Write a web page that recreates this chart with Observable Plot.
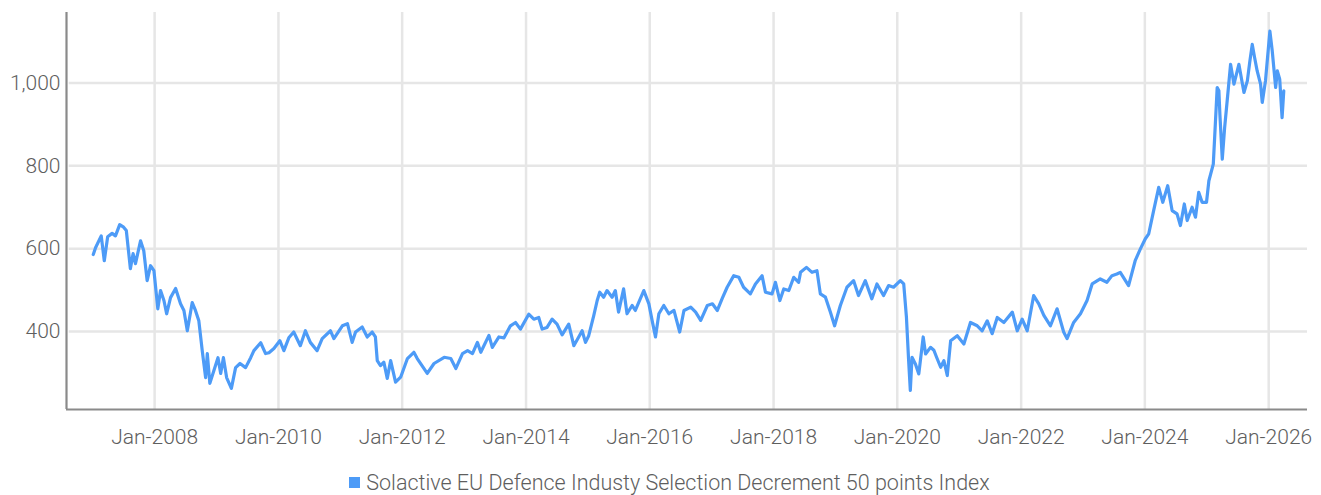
<!DOCTYPE html>
<html>
<head>
<meta charset="utf-8">
<script src="https://cdn.jsdelivr.net/npm/d3@7"></script>
<script src="https://cdn.jsdelivr.net/npm/@observablehq/plot@0.6"></script>
<style>
  html, body { margin: 0; padding: 0; background: #fff; }
  body { width: 1321px; height: 495px; overflow: hidden; font-family: Roboto, "Noto Sans", sans-serif; }
  #legend { display: flex; justify-content: center; align-items: center; height: 54px; margin-left: 18px;
    font-family: Roboto, sans-serif; font-weight: 300; font-size: 21.5px; color: #5e5e5e; }
  #legend .sw { width: 11px; height: 11px; background: #4d9bf7; margin-right: 6px; }
</style>
</head>
<body>
<div id="chart"></div>
<div id="legend"><span class="sw"></span><span id="legendText"></span></div>
<script>
const seriesName = "Solactive EU Defence Industy Selection Decrement 50 points Index";

const dates = [
  "2007-01-04","2007-01-18","2007-02-20","2007-03-10","2007-03-30","2007-04-25","2007-05-15","2007-06-09","2007-07-02","2007-07-18",
  "2007-08-11","2007-08-27","2007-09-10","2007-10-10","2007-10-29","2007-11-18","2007-12-08","2007-12-28","2008-01-20","2008-02-05",
  "2008-02-25","2008-03-12","2008-04-04","2008-05-04","2008-06-02","2008-06-22","2008-07-12","2008-08-10","2008-08-29","2008-09-18",
  "2008-10-08","2008-10-28","2008-11-07","2008-11-22","2008-12-16","2009-01-09","2009-01-25","2009-02-10","2009-03-01","2009-03-29",
  "2009-04-23","2009-05-19","2009-06-21","2009-07-21","2009-08-09","2009-09-18","2009-10-17","2009-11-06","2009-12-05","2010-01-09",
  "2010-02-02","2010-03-03","2010-04-01","2010-05-10","2010-06-09","2010-07-08","2010-08-17","2010-09-16","2010-11-04","2010-11-24",
  "2011-01-13","2011-02-12","2011-03-12","2011-04-01","2011-05-10","2011-06-09","2011-07-08","2011-07-27","2011-08-07","2011-08-26",
  "2011-09-15","2011-10-05","2011-10-25","2011-11-23","2011-12-23","2012-02-01","2012-03-10","2012-03-30","2012-05-28","2012-07-07",
  "2012-09-05","2012-10-14","2012-11-13","2012-12-22","2013-01-21","2013-02-19","2013-03-20","2013-04-09","2013-05-27","2013-06-16",
  "2013-07-25","2013-08-24","2013-10-01","2013-10-31","2013-11-29","2014-01-17","2014-02-16","2014-03-17","2014-04-06","2014-05-05",
  "2014-06-04","2014-07-03","2014-08-02","2014-09-10","2014-10-10","2014-11-08","2014-11-28","2014-12-18","2015-01-06","2015-02-05",
  "2015-02-25","2015-03-12","2015-04-04","2015-04-24","2015-05-24","2015-06-12","2015-07-01","2015-07-31","2015-08-20","2015-09-19",
  "2015-10-08","2015-11-27","2015-12-27","2016-01-15","2016-02-04","2016-02-24","2016-03-24","2016-04-23","2016-05-23","2016-06-26",
  "2016-07-21","2016-08-30","2016-09-28","2016-10-28","2016-12-06","2017-01-05","2017-02-03","2017-03-04","2017-04-02","2017-05-11",
  "2017-06-10","2017-07-08","2017-08-17","2017-09-16","2017-10-25","2017-11-14","2017-12-23","2018-01-12","2018-02-07","2018-03-02",
  "2018-04-01","2018-04-30","2018-05-29","2018-06-09","2018-07-14","2018-08-16","2018-09-14","2018-10-04","2018-11-03","2018-12-02",
  "2018-12-27","2019-01-30","2019-03-10","2019-04-18","2019-05-17","2019-06-26","2019-08-04","2019-09-03","2019-10-12","2019-11-11",
  "2019-12-10","2020-01-19","2020-02-08","2020-02-24","2020-03-08","2020-03-18","2020-03-28","2020-04-17","2020-05-07","2020-06-02",
  "2020-06-16","2020-07-15","2020-08-04","2020-08-20","2020-09-13","2020-10-02","2020-10-22","2020-11-11","2020-12-20","2021-01-28",
  "2021-03-08","2021-04-17","2021-05-16","2021-06-15","2021-07-14","2021-08-13","2021-09-21","2021-11-10","2021-12-09","2022-01-07",
  "2022-02-06","2022-03-16","2022-04-15","2022-05-15","2022-06-23","2022-08-01","2022-09-09","2022-09-29","2022-11-07","2022-12-17",
  "2023-01-25","2023-02-24","2023-04-13","2023-05-22","2023-06-21","2023-07-20","2023-08-09","2023-09-27","2023-11-05","2023-12-05",
  "2024-01-04","2024-01-24","2024-02-22","2024-03-23","2024-04-16","2024-05-15","2024-06-10","2024-07-09","2024-07-29","2024-08-21",
  "2024-09-07","2024-10-06","2024-10-26","2024-11-14","2024-12-04","2024-12-30","2025-01-13","2025-02-08","2025-02-16","2025-03-03",
  "2025-03-13","2025-03-19","2025-04-02","2025-04-16","2025-05-01","2025-05-21","2025-06-10","2025-07-09","2025-08-08","2025-08-28",
  "2025-09-12","2025-09-26","2025-10-10","2025-10-25","2025-11-14","2025-11-24","2025-12-13","2026-01-08","2026-01-22","2026-02-11",
  "2026-02-21","2026-03-07","2026-03-21","2026-03-31"
];

const values = [
  586,603,631,571,629,637,631,658,652,644,
  552,588,564,619,595,523,559,547,455,499,
  475,443,482,504,467,451,402,470,451,426,
  354,289,347,275,306,337,299,337,289,263,
  313,323,313,337,354,373,347,349,359,378,
  354,385,399,366,402,374,354,383,402,383,
  414,419,374,399,411,387,399,387,330,318,
  326,287,330,278,290,335,350,335,299,323,
  338,335,311,347,354,347,374,350,391,362,
  387,385,414,422,406,442,430,434,406,410,
  430,418,392,418,366,387,402,374,390,439,
  475,495,483,499,483,499,447,503,443,463,
  451,499,467,427,387,443,463,443,451,399,
  451,459,447,427,463,467,451,480,507,535,
  531,507,491,515,535,495,491,519,475,503,
  499,531,519,543,555,543,547,491,483,447,
  414,463,507,523,487,523,479,515,487,511,
  507,523,515,435,330,258,338,322,298,387,
  346,362,355,338,314,330,294,378,390,370,
  422,414,402,426,395,434,422,447,402,430,
  402,487,467,439,414,455,399,383,422,443,
  475,515,527,519,535,539,543,511,571,599,
  624,636,692,748,712,752,692,684,656,708,
  668,700,676,736,712,712,764,804,868,989,
  981,924,816,892,957,1045,997,1045,977,1005,
  1053,1093,1061,1029,997,953,1005,1125,1077,989,
  1029,1009,916,981
];

const yTicks = [400, 600, 800, 1000];
const xTickYears = [2008, 2010, 2012, 2014, 2016, 2018, 2020, 2022, 2024, 2026];

const data = dates.map((d, i) => ({date: new Date(d + "T00:00:00Z"), value: values[i]}));
const xTicks = xTickYears.map(y => new Date(Date.UTC(y, 0, 1)));
const fmt = d3.utcFormat("%b-%Y");

const lineColor = "#4d9bf7";
const gridColor = "#e6e6e6";
const axisColor = "#8a8a8a";

const plot = Plot.plot({
  width: 1321,
  height: 455,
  marginLeft: 66,
  marginRight: 14,
  marginTop: 12,
  marginBottom: 46,
  style: {fontFamily: "Roboto, sans-serif", fontWeight: 300, fontSize: "21px", color: "#5e5e5e", background: "#fff"},
  x: {type: "utc", domain: [new Date("2006-07-30T00:00:00Z"), new Date("2026-08-18T00:00:00Z")]},
  y: {domain: [212, 1170]},
  marks: [
    Plot.ruleX(xTicks, {stroke: gridColor, strokeWidth: 2.5}),
    Plot.ruleY(yTicks, {stroke: gridColor, strokeWidth: 2.5, x1: new Date("2006-08-15T00:00:00Z"), x2: new Date("2026-08-18T00:00:00Z")}),
    Plot.axisX(xTicks, {tickSize: 0, tickPadding: 20, tickFormat: fmt, fill: "#5e5e5e", fontSize: 21, fontWeight: 300, label: null}),
    Plot.axisY(yTicks, {tickSize: 0, tickPadding: 6, tickFormat: d3.format(","), fill: "#5e5e5e", fontSize: 21, fontWeight: 300, label: null}),
    Plot.line(data, {x: "date", y: "value", stroke: lineColor, strokeWidth: 3.2, strokeLinejoin: "round"}),
    Plot.ruleX([0], {x: () => new Date("2006-07-30T00:00:00Z"), stroke: axisColor, strokeWidth: 2.2}),
    Plot.ruleY([212], {stroke: axisColor, strokeWidth: 2.2})
  ]
});
document.getElementById("chart").appendChild(plot);
document.getElementById("legendText").textContent = seriesName;
</script>
</body>
</html>
